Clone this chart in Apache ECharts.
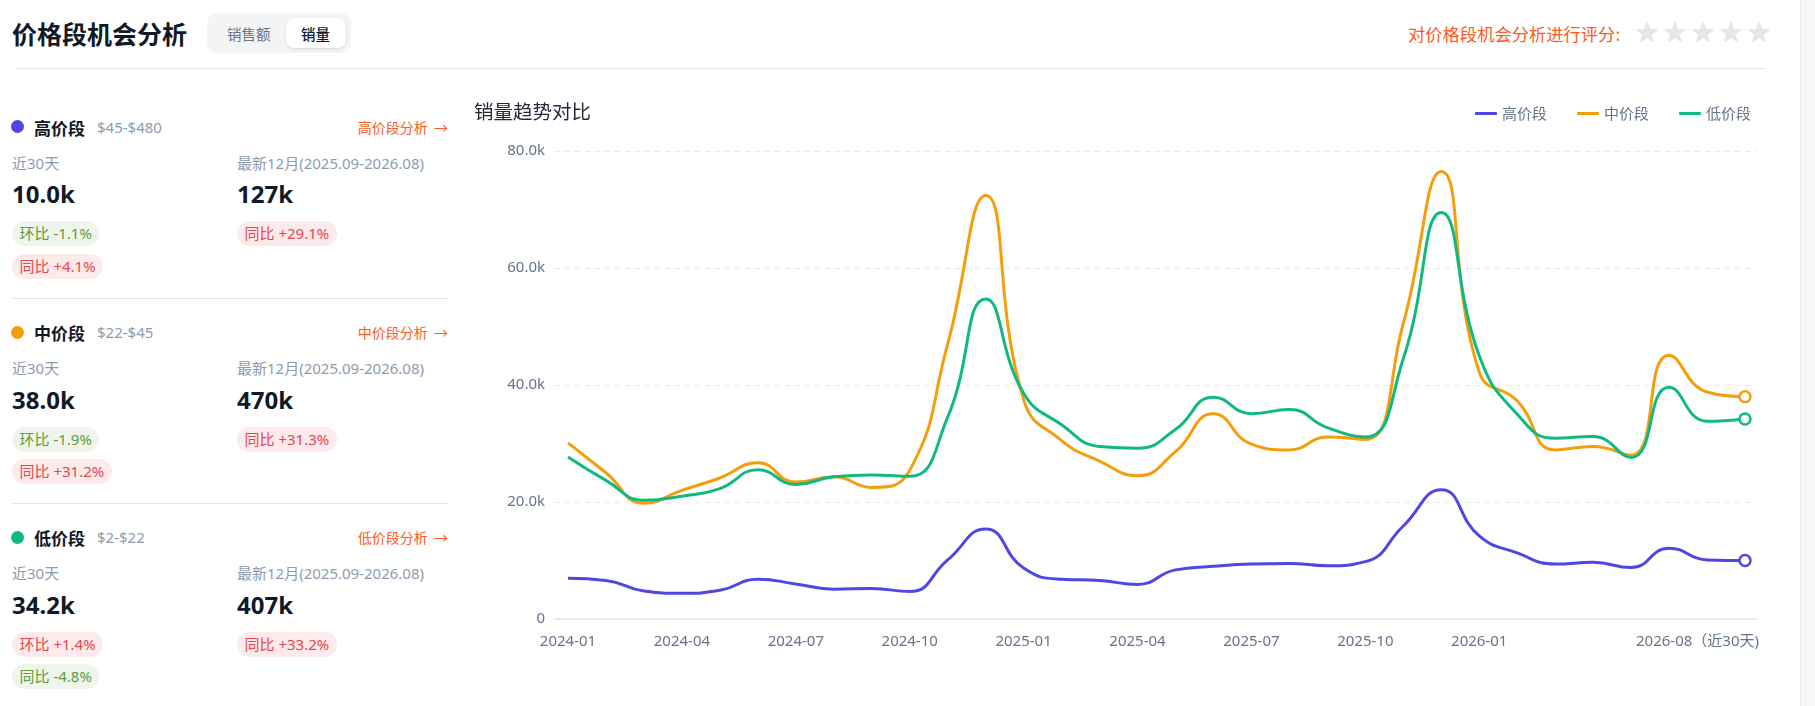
<!DOCTYPE html>
<html>
<head>
<meta charset="utf-8">
<script src="https://cdn.jsdelivr.net/npm/echarts@6/dist/echarts.min.js"></script>
<style>
  html, body { margin: 0; padding: 0; background: #fff; }
  body { width: 1815px; height: 706px; position: relative; overflow: hidden;
         font-family: "Noto Sans", "Noto Sans CJK SC", sans-serif; color: #1d2129; }
  .abs { position: absolute; white-space: nowrap; }
  .vc { transform: translateY(-50%); }
  .pill { position: absolute; height: 25px; line-height: 25px; border-radius: 13px; padding: 0 7.5px;
          font-size: 15px; white-space: nowrap; }
  .pg { background: #eef5ea; color: #5e9c3c; }
  .pr { background: #fdeaea; color: #e5484d; }
  .muted { color: #8c9bb0; font-size: 15px; }
</style>
</head>
<body>
<div class="abs vc" style="left:12px;top:33px;font-size:25px;font-weight:700;color:#111827;font-family:'Noto Sans CJK SC',sans-serif;">价格段机会分析</div>
<div class="abs" style="left:207px;top:13px;width:144px;height:40px;border-radius:10px;background:#f3f4f6;"></div>
<div class="abs vc" style="left:227px;top:33px;font-size:14.5px;color:#6b7280;font-family:'Noto Sans CJK SC',sans-serif;">销售额</div>
<div class="abs" style="left:286px;top:18px;width:60px;height:30px;border-radius:8px;background:#fff;box-shadow:0 1px 3px rgba(0,0,0,0.12);"></div>
<div class="abs vc" style="left:301px;top:33px;font-size:14.5px;color:#111827;font-weight:500;font-family:'Noto Sans CJK SC',sans-serif;">销量</div>
<div class="abs vc" style="left:1408px;top:33px;font-size:17.3px;color:#ff5a1f;font-family:'Noto Sans CJK SC',sans-serif;">对价格段机会分析进行评分:</div>
<svg id="stars" class="abs" style="left:1630px;top:18px;" width="145" height="32"></svg>
<div class="abs" style="left:16px;top:68px;width:1749px;height:1px;background:#e5e7eb;"></div>
<div class="abs" style="left:1800px;top:0;width:15px;height:706px;background:#f6f7f9;border-left:1px solid #e8eaee;"></div>
<div id="panel"></div>
<div id="chart" class="abs" style="left:460px;top:80px;width:1340px;height:620px;"></div>
<script>
// ---- data ----
const months = ['2024-01','2024-02','2024-03','2024-04','2024-05','2024-06','2024-07','2024-08','2024-09','2024-10','2024-11','2024-12',
                '2025-01','2025-02','2025-03','2025-04','2025-05','2025-06','2025-07','2025-08','2025-09','2025-10','2025-11','2025-12',
                '2026-01','2026-02','2026-03','2026-04','2026-05','2026-06','2026-07','2026-08'];
const lastLabelSuffix = '（近30天)';
const seriesNames = ['高价段', '中价段', '低价段'];
const highValues = [6950, 6600, 4800, 4400, 4900, 6800, 6000, 5100, 5200, 4700, 10100, 15400,
                    8700, 6800, 6600, 5900, 8400, 9000, 9400, 9500, 9100, 9800, 15900, 22100,
                    14200, 11300, 9400, 9700, 8800, 12100, 10100, 10000];
const midValues  = [30100, 25000, 19800, 22000, 24100, 26700, 23400, 24300, 22500, 25400, 47000, 72400,
                    37500, 30500, 27000, 24500, 28600, 35100, 29900, 28900, 31100, 30700, 50500, 76500,
                    42200, 37300, 28900, 29500, 28000, 45100, 38800, 38000];
const lowValues  = [27700, 23700, 20300, 21000, 22300, 25500, 23000, 24300, 24600, 24400, 34500, 54700,
                    38600, 33200, 29500, 29200, 32400, 37900, 35100, 35800, 32700, 31100, 44500, 69500,
                    45000, 35000, 30900, 31200, 27600, 39600, 33800, 34200];
const yTicks = { min: 0, max: 80000, interval: 20000 };

// left panel content
const segNames   = ['高价段', '中价段', '低价段'];
const segRanges  = ['$45-$480', '$22-$45', '$2-$22'];
const seg30      = ['10.0k', '38.0k', '34.2k'];
const seg12      = ['127k', '470k', '407k'];
const segPills30 = [[['环比 -1.1%','g'],['同比 +4.1%','r']], [['环比 -1.9%','g'],['同比 +31.2%','r']], [['环比 +1.4%','r'],['同比 -4.8%','g']]];
const segPills12 = [[['同比 +29.1%','r']], [['同比 +31.3%','r']], [['同比 +33.2%','r']]];
const colors = ['#4f46e5', '#f59e0b', '#10b981'];

// ---- stars ----
(function(){
  const svg = document.getElementById('stars');
  let s = '';
  for (let k = 0; k < 5; k++) {
    const cx = 17 + k * 28, cy = 15, R = 10.5, r = 4.4;
    const pts = [];
    for (let j = 0; j < 10; j++) {
      const a = -Math.PI / 2 + j * Math.PI / 5;
      const rr = j % 2 === 0 ? R : r;
      pts.push((cx + rr * Math.cos(a)).toFixed(2) + ',' + (cy + rr * Math.sin(a)).toFixed(2));
    }
    s += '<polygon points="' + pts.join(' ') + '" fill="#e4e6eb" stroke="#e4e6eb" stroke-width="1.5" stroke-linejoin="round"/>';
  }
  svg.innerHTML = s;
})();

// ---- left panel ----
(function(){
  const bases = [126.7, 332.3, 537.3];
  let h = '';
  for (let i = 0; i < 3; i++) {
    const b = bases[i];
    h += '<div class="abs" style="left:11px;top:' + (b - 6.5) + 'px;width:13px;height:13px;border-radius:50%;background:' + colors[i] + ';"></div>';
    h += '<div class="abs vc" style="left:34px;top:' + b + 'px;font-size:17px;font-weight:700;color:#111827;font-family:\'Noto Sans CJK SC\',sans-serif;">' + segNames[i] + '</div>';
    h += '<div class="abs vc muted" style="left:97px;top:' + b + 'px;">' + segRanges[i] + '</div>';
    h += '<div class="abs vc" style="right:' + (1815 - 448) + 'px;top:' + b + 'px;font-size:14px;color:#ff5a1f;font-family:\'Noto Sans CJK SC\',sans-serif;">' + segNames[i] + '分析 &nbsp;→</div>';
    h += '<div class="abs vc muted" style="left:12px;top:' + (b + 35) + 'px;">近30天</div>';
    h += '<div class="abs vc muted" style="left:237px;top:' + (b + 35) + 'px;">最新12月(2025.09-2026.08)</div>';
    h += '<div class="abs vc" style="left:12px;top:' + (b + 66.5) + 'px;font-size:24px;font-weight:700;color:#111827;">' + seg30[i] + '</div>';
    h += '<div class="abs vc" style="left:237px;top:' + (b + 66.5) + 'px;font-size:24px;font-weight:700;color:#111827;">' + seg12[i] + '</div>';
    segPills30[i].forEach(function(p, j){
      h += '<div class="pill ' + (p[1] === 'g' ? 'pg' : 'pr') + '" style="left:12px;top:' + (b + 94.5 + j * 32.5) + 'px;">' + p[0] + '</div>';
    });
    segPills12[i].forEach(function(p, j){
      h += '<div class="pill ' + (p[1] === 'g' ? 'pg' : 'pr') + '" style="left:237px;top:' + (b + 94.5 + j * 32.5) + 'px;">' + p[0] + '</div>';
    });
    if (i < 2) h += '<div class="abs" style="left:12px;top:' + (b + 171) + 'px;width:436px;height:1px;background:#e5e7eb;"></div>';
  }
  document.getElementById('panel').innerHTML = h;
})();

// ---- chart ----
const chart = echarts.init(document.getElementById('chart'), null, { renderer: 'canvas' });
const lastIdx = months.length - 1;
const FONT = "'Noto Sans', 'Noto Sans CJK SC', sans-serif";
const axisColor = '#64748b';
function mk(name, data, color) {
  return {
    name: name, type: 'line', xAxisIndex: 1, yAxisIndex: 1, data: data,
    smooth: true, symbol: 'circle',
    symbolSize: function(v, p) { return p.dataIndex === lastIdx ? 11 : 0; },
    showSymbol: true,
    lineStyle: { width: 3, color: color },
    itemStyle: { color: '#fff', borderColor: color, borderWidth: 2.5 },
    emphasis: { disabled: true }
  };
}
chart.setOption({
  animation: false,
  color: colors,
  textStyle: { fontFamily: FONT },
  title: { text: '销量趋势对比', left: 9, top: 17,
           textStyle: { fontSize: 19.5, fontWeight: 'normal', color: '#1f2937', fontFamily: "'Noto Sans CJK SC', sans-serif" } },
  legend: {
    right: 44, top: 21, icon: 'roundRect', itemWidth: 22, itemHeight: 3, itemGap: 30,
    textStyle: { fontSize: 15, color: axisColor, fontFamily: "'Noto Sans CJK SC', sans-serif" },
    data: seriesNames.map(function(n, i){ return { name: n, itemStyle: { color: colors[i], borderWidth: 0 } }; })
  },
  grid: [
    { left: 95, right: 43, top: 71, bottom: 81 },
    { left: 108, right: 55, top: 71, bottom: 81 }
  ],
  xAxis: [
    { type: 'category', gridIndex: 0, data: months, boundaryGap: false,
      axisLine: { show: true, lineStyle: { color: '#e6e8ef', width: 1.5 } },
      axisTick: { show: false }, axisLabel: { show: false }, splitLine: { show: false } },
    { type: 'category', gridIndex: 1, data: months, boundaryGap: false,
      axisLine: { show: false }, axisTick: { show: false }, splitLine: { show: false },
      axisLabel: {
        color: axisColor, fontSize: 15, margin: 15, fontFamily: FONT,
        interval: function(i) { return i === lastIdx || (i % 3 === 0 && i <= 24); },
        formatter: function(v, i) { return i === lastIdx ? '{last|' + v + lastLabelSuffix + '}' : v; },
        rich: { last: { color: axisColor, fontSize: 15, fontFamily: FONT, padding: [0, 95, 0, 0] } }
      } }
  ],
  yAxis: [
    { type: 'value', gridIndex: 0, min: yTicks.min, max: yTicks.max, interval: yTicks.interval,
      axisLine: { show: false }, axisTick: { show: false },
      axisLabel: { color: axisColor, fontSize: 15, margin: 10, fontFamily: FONT,
        formatter: function(v){ return v === 0 ? '0' : (v / 1000).toFixed(1) + 'k'; } },
      splitLine: { show: true, lineStyle: { type: [5, 5], color: '#e8eaee', width: 1 } } },
    { type: 'value', gridIndex: 1, min: yTicks.min, max: yTicks.max, interval: yTicks.interval,
      show: false, splitLine: { show: false } }
  ],
  series: [
    mk(seriesNames[0], highValues, colors[0]),
    mk(seriesNames[1], midValues, colors[1]),
    mk(seriesNames[2], lowValues, colors[2])
  ]
});
</script>
</body>
</html>
